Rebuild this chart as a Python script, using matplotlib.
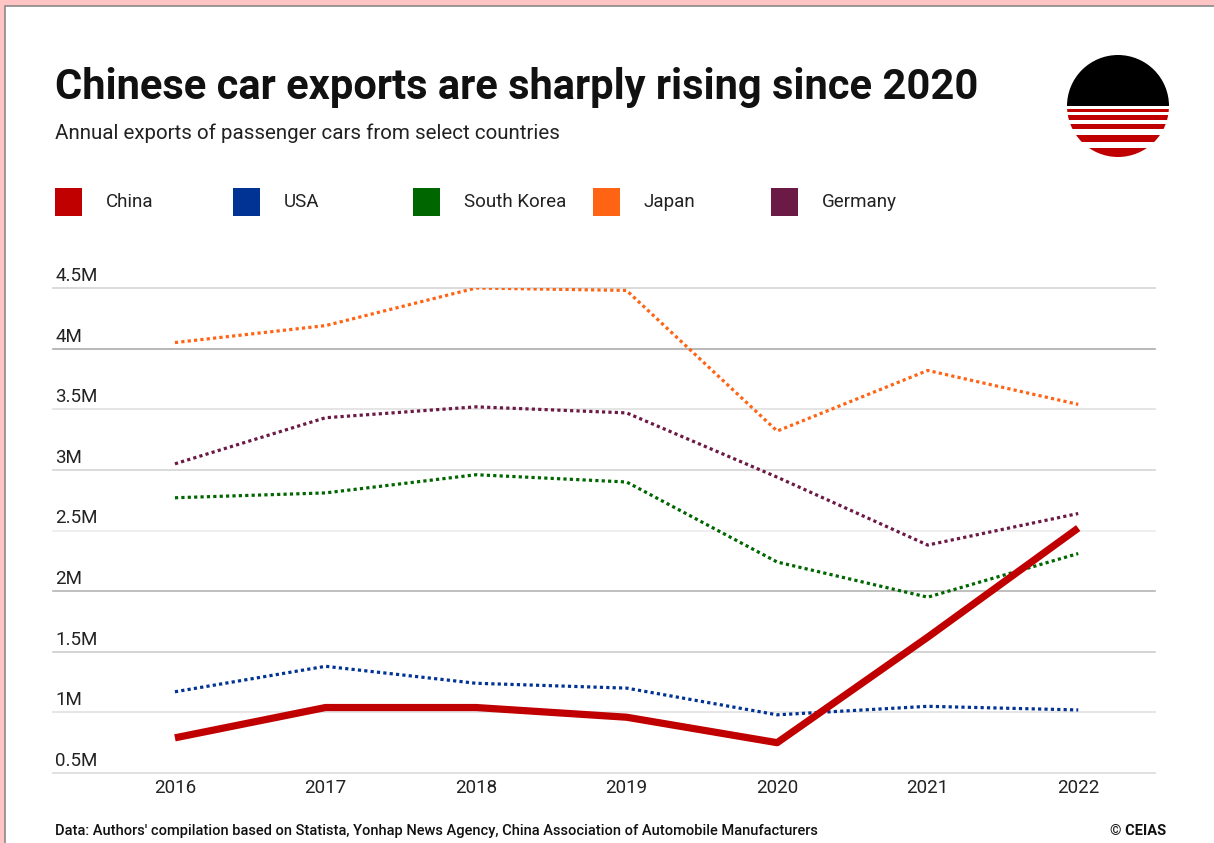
import numpy as np
import matplotlib.pyplot as plt
from matplotlib.patches import Rectangle, Circle
import matplotlib.transforms as mtransforms

plt.rcParams['font.family'] = ['Roboto', 'DejaVu Sans']

years = [2016, 2017, 2018, 2019, 2020, 2021, 2022]
china = [0.79, 1.04, 1.04, 0.96, 0.75, 1.62, 2.52]
usa = [1.17, 1.38, 1.24, 1.20, 0.98, 1.05, 1.02]
south_korea = [2.77, 2.81, 2.96, 2.90, 2.24, 1.95, 2.31]
japan = [4.05, 4.19, 4.50, 4.48, 3.32, 3.82, 3.54]
germany = [3.05, 3.43, 3.52, 3.47, 2.94, 2.38, 2.64]

countries = ['China', 'USA', 'South Korea', 'Japan', 'Germany']
colors = ['#c00000', '#003393', '#006600', '#ff6314', '#6b1a45']
yticks = [0.5, 1, 1.5, 2, 2.5, 3, 3.5, 4, 4.5]
ytick_labels = ['0.5M', '1M', '1.5M', '2M', '2.5M', '3M', '3.5M', '4M', '4.5M']
grid_colors = ['#dadada', '#e2e2e2', '#cdcdcd', '#b4b4b4', '#ececec',
               '#d4d4d4', '#e0e0e0', '#ababab', '#d4d4d4']

W, H = 1214, 843
fig = plt.figure(figsize=(W / 100, H / 100), dpi=100)
fig.patch.set_facecolor('#ffc4c4')

# white card with a thin grey edge, kept behind everything
card = Rectangle((5 / W, -0.1), 1.1, (H - 6) / H + 0.1, transform=fig.transFigure,
                 facecolor='white', edgecolor='#8a8a8a', linewidth=1.2, zorder=-5)
fig.patches.append(card)

fig.text(55 / W, 1 - 87 / H, 'Chinese car exports are sharply rising since 2020',
         fontsize=30, fontweight='bold', va='center', ha='left', color='#111111')
fig.text(55 / W, 1 - 133 / H, 'Annual exports of passenger cars from select countries',
         fontsize=14.8, va='center', ha='left', color='#222222')

# legend row
leg_x = [55, 233, 413, 593, 771]
for x0, name, c in zip(leg_x, countries, colors):
    fig.patches.append(Rectangle((x0 / W, 1 - 216 / H), 27 / W, 28 / H,
                                 transform=fig.transFigure, facecolor=c,
                                 edgecolor='none', zorder=1))
    fig.text((x0 + 51) / W, 1 - 202 / H, name, fontsize=13.5, va='center', ha='left',
             color='#222222')

ax = fig.add_axes([53 / W, 1 - 773 / H, (1155 - 53) / W, (773 - 288) / H])
ax.patch.set_alpha(0)
ax.set_xlim(2015.19, 2022.51)
ax.set_ylim(0.5, 4.5)
for s in ax.spines.values():
    s.set_visible(False)
ax.set_yticks([])
ax.set_xticks(years)
ax.set_xticklabels([str(y) for y in years], fontsize=13.5, color='#222222')
ax.tick_params(axis='x', length=0, pad=4.5)

trans = mtransforms.blended_transform_factory(ax.transAxes, ax.transData)
for v, lab, gc in zip(yticks, ytick_labels, grid_colors):
    ax.axhline(v, color=gc, linewidth=1.2, zorder=1, clip_on=False)
    ax.text(0.002, v + 0.025, lab, transform=trans, fontsize=13.5, va='bottom', ha='left',
            color='#222222')

dot = (0, (1, 1))
ax.plot(years, japan, color=colors[3], lw=2.3, linestyle=dot, zorder=3)
ax.plot(years, germany, color=colors[4], lw=2.3, linestyle=dot, zorder=3)
ax.plot(years, south_korea, color=colors[2], lw=2.3, linestyle=dot, zorder=3)
ax.plot(years, usa, color=colors[1], lw=2.3, linestyle=dot, zorder=3)
ax.plot(years, china, color=colors[0], lw=5.2, zorder=4, solid_capstyle='butt')

# footer
fig.text(55 / W, 1 - 831 / H,
         "Data: Authors' compilation based on Statista, Yonhap News Agency, China Association of Automobile Manufacturers",
         fontsize=10.5, fontweight='medium', va='center', ha='left', color='#111111')
fig.text(1166 / W, 1 - 831 / H, '© CEIAS', fontsize=10.5, fontweight='bold',
         va='center', ha='right', color='#111111')

# logo: black upper half, red stripes below, clipped to a circle
r = 51
lax = fig.add_axes([(1118 - r) / W, 1 - (106 + r) / H, 2 * r / W, 2 * r / H])
lax.set_xlim(-1, 1)
lax.set_ylim(-1, 1)
lax.axis('off')
clip = Circle((0, 0), 1, transform=lax.transData)
top = Rectangle((-1, 0), 2, 1, facecolor='black', edgecolor='none')
lax.add_patch(top)
top.set_clip_path(clip)
stripes = [(-0.115, -0.05), (-0.265, -0.18), (-0.46, -0.345), (-0.70, -0.57), (-1.0, -0.83)]
for lo, hi in stripes:
    p = Rectangle((-1, lo), 2, hi - lo, facecolor='#c00000', edgecolor='none')
    lax.add_patch(p)
    p.set_clip_path(clip)

fig.savefig('out.png', dpi=100, facecolor=fig.get_facecolor())
